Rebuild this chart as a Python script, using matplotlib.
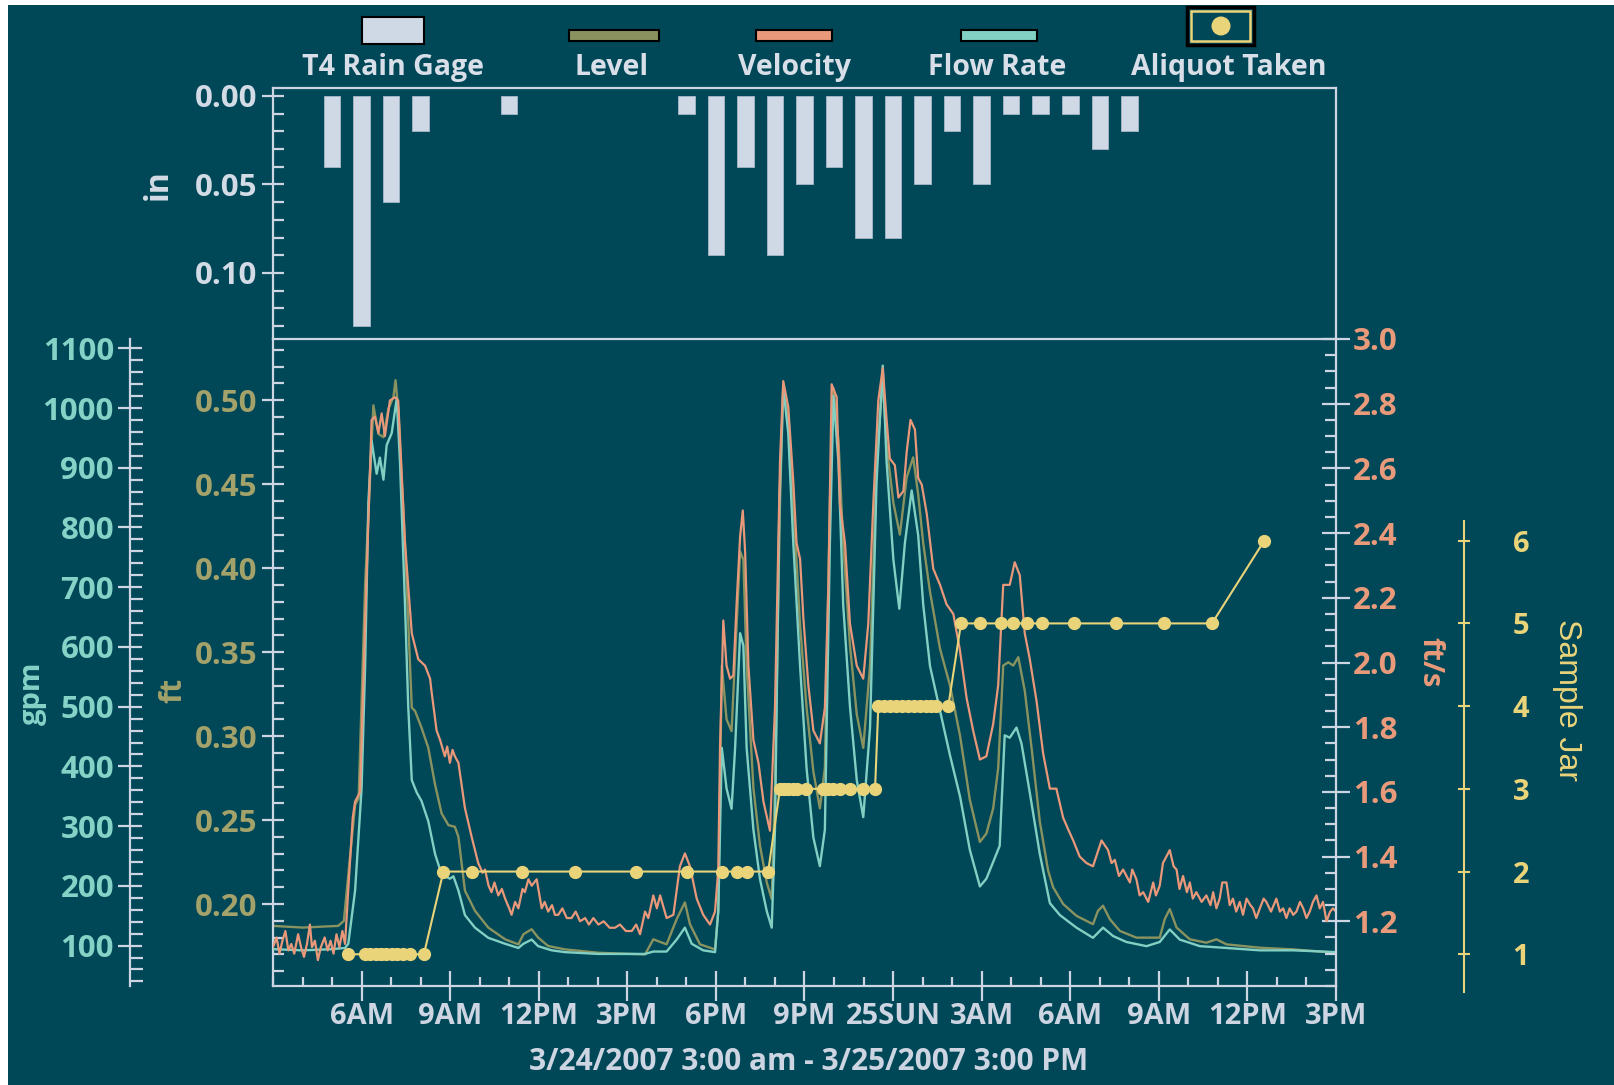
import matplotlib
matplotlib.use("Agg")
import matplotlib.pyplot as plt
import matplotlib.patches as mpatches
from matplotlib.ticker import MultipleLocator, FixedLocator, FormatStrFormatter

plt.rcParams["font.family"] = ["Open Sans", "DejaVu Sans"]
plt.rcParams["font.weight"] = "bold"

# ── data (hours after 3/24/2007 3:00 AM) ───────────────────────────────────
rain_hours = [2, 3, 4, 5, 8, 14, 15, 16, 17, 18, 19, 20, 21, 22, 23, 24, 25, 26, 27, 28, 29]
rain_in = [0.04, 0.13, 0.06, 0.02, 0.01, 0.01, 0.09, 0.04, 0.09, 0.05, 0.04,
           0.08, 0.08, 0.05, 0.02, 0.05, 0.01, 0.01, 0.01, 0.03, 0.02]

level_hours = [
    0.00, 1.00, 2.21, 2.40, 2.78, 2.90, 3.12, 3.40, 3.57, 3.74,
    3.91, 4.08, 4.15, 4.24, 4.47, 4.70, 4.81, 5.03, 5.26, 5.49,
    5.71, 5.94, 6.16, 6.28, 6.50, 6.84, 7.29, 7.86, 8.31, 8.48,
    8.76, 8.98, 9.32, 9.89, 11.02, 12.60, 12.88, 13.33, 13.67, 13.95,
    14.12, 14.46, 14.97, 15.08, 15.20, 15.36, 15.53, 15.70, 15.82, 15.93,
    16.04, 16.27, 16.49, 16.72, 16.89, 17.00, 17.17, 17.28, 17.45, 17.62,
    17.85, 18.07, 18.30, 18.52, 18.69, 18.86, 18.98, 19.15, 19.31, 19.54,
    19.77, 19.99, 20.22, 20.44, 20.65, 20.78, 21.01, 21.23, 21.46, 21.68,
    21.85, 22.02, 22.25, 22.59, 22.93, 23.27, 23.60, 23.94, 24.16, 24.39,
    24.56, 24.73, 24.90, 25.07, 25.24, 25.46, 25.69, 25.97, 26.25, 26.42,
    26.76, 27.21, 27.77, 27.94, 28.11, 28.34, 28.68, 29.24, 30.03, 30.20,
    30.37, 30.60, 31.05, 31.61, 31.95, 32.29, 33.42, 34.55, 36.00]
level_ft = [
    0.187, 0.186, 0.187, 0.190, 0.259, 0.263, 0.390, 0.497, 0.480, 0.478,
    0.495, 0.502, 0.512, 0.495, 0.415, 0.317, 0.315, 0.305, 0.293, 0.271,
    0.254, 0.247, 0.246, 0.240, 0.208, 0.196, 0.186, 0.179, 0.176, 0.182,
    0.185, 0.180, 0.175, 0.173, 0.171, 0.170, 0.179, 0.176, 0.191, 0.201,
    0.188, 0.176, 0.173, 0.196, 0.342, 0.310, 0.303, 0.366, 0.410, 0.405,
    0.342, 0.269, 0.235, 0.213, 0.203, 0.269, 0.439, 0.507, 0.488, 0.439,
    0.366, 0.317, 0.279, 0.257, 0.281, 0.439, 0.507, 0.476, 0.415, 0.354,
    0.313, 0.293, 0.342, 0.463, 0.512, 0.473, 0.439, 0.420, 0.454, 0.466,
    0.444, 0.415, 0.386, 0.352, 0.330, 0.300, 0.262, 0.237, 0.242, 0.257,
    0.281, 0.342, 0.344, 0.342, 0.347, 0.327, 0.293, 0.249, 0.220, 0.210,
    0.200, 0.193, 0.188, 0.196, 0.199, 0.191, 0.184, 0.180, 0.180, 0.191,
    0.197, 0.186, 0.179, 0.177, 0.179, 0.176, 0.174, 0.173, 0.171]

flow_hours = [
    0.00, 1.00, 2.00, 2.44, 2.55, 2.78, 3.00, 3.12, 3.23, 3.34,
    3.51, 3.62, 3.74, 3.85, 4.02, 4.19, 4.30, 4.47, 4.58, 4.70,
    4.87, 5.03, 5.26, 5.49, 5.71, 5.99, 6.11, 6.28, 6.50, 6.84,
    7.29, 7.86, 8.31, 8.48, 8.76, 8.98, 9.44, 9.89, 11.02, 12.60,
    12.88, 13.33, 13.67, 13.95, 14.18, 14.57, 14.97, 15.08, 15.20, 15.36,
    15.53, 15.65, 15.82, 15.93, 16.04, 16.27, 16.49, 16.72, 16.89, 17.00,
    17.15, 17.28, 17.45, 17.62, 17.85, 18.07, 18.30, 18.52, 18.69, 18.86,
    18.98, 19.15, 19.31, 19.54, 19.77, 19.99, 20.22, 20.44, 20.65, 20.78,
    21.01, 21.21, 21.40, 21.63, 21.85, 22.02, 22.25, 22.59, 22.93, 23.27,
    23.60, 23.94, 24.16, 24.39, 24.61, 24.78, 24.95, 25.18, 25.35, 25.63,
    25.97, 26.31, 26.65, 27.21, 27.77, 28.11, 28.45, 28.90, 29.58, 30.03,
    30.37, 30.71, 31.39, 32.29, 33.42, 34.55, 36.00]
flow_gpm = [
    94, 92, 94, 96, 103, 192, 363, 568, 842, 945,
    890, 917, 880, 938, 958, 1016, 910, 671, 500, 377,
    356, 342, 308, 253, 219, 212, 216, 192, 151, 130,
    113, 103, 96, 103, 110, 99, 92, 89, 86, 86,
    90, 90, 110, 130, 103, 92, 89, 158, 431, 363,
    329, 431, 623, 602, 431, 294, 212, 158, 130, 294,
    842, 1034, 958, 774, 568, 397, 281, 233, 294, 774,
    1020, 910, 671, 500, 377, 315, 465, 876, 1071, 910,
    746, 664, 774, 862, 787, 671, 568, 493, 418, 349,
    260, 199, 212, 240, 267, 452, 448, 465, 438, 356,
    253, 171, 151, 130, 113, 130, 116, 106, 99, 106,
    127, 110, 99, 96, 92, 92, 89]

vel_hours = [
    0.00, 0.12, 0.22, 0.32, 0.42, 0.52, 0.62, 0.72, 0.85, 0.95,
    1.05, 1.15, 1.25, 1.32, 1.42, 1.52, 1.62, 1.75, 1.85, 1.95,
    2.05, 2.15, 2.25, 2.35, 2.44, 2.55, 2.70, 2.78, 2.95, 3.12,
    3.34, 3.45, 3.57, 3.68, 3.79, 3.96, 4.13, 4.24, 4.47, 4.70,
    4.92, 5.15, 5.32, 5.37, 5.54, 5.66, 5.82, 5.90, 5.99, 6.08,
    6.16, 6.28, 6.50, 6.73, 6.95, 7.10, 7.18, 7.30, 7.40, 7.50,
    7.63, 7.75, 7.86, 8.00, 8.08, 8.20, 8.31, 8.45, 8.53, 8.65,
    8.76, 8.93, 9.10, 9.20, 9.32, 9.45, 9.55, 9.66, 9.80, 9.95,
    10.11, 10.25, 10.40, 10.57, 10.70, 10.85, 11.02, 11.20, 11.40, 11.58,
    11.75, 11.95, 12.15, 12.30, 12.43, 12.60, 12.71, 12.88, 13.00, 13.11,
    13.33, 13.56, 13.78, 13.95, 14.12, 14.35, 14.57, 14.80, 14.97, 15.08,
    15.14, 15.25, 15.36, 15.48, 15.59, 15.70, 15.82, 15.91, 15.99, 16.10,
    16.27, 16.44, 16.61, 16.83, 17.00, 17.17, 17.28, 17.45, 17.62, 17.73,
    17.85, 17.96, 18.13, 18.30, 18.52, 18.69, 18.81, 18.92, 19.09, 19.20,
    19.37, 19.54, 19.77, 19.99, 20.16, 20.33, 20.50, 20.65, 20.78, 20.89,
    21.06, 21.18, 21.35, 21.46, 21.59, 21.74, 21.85, 21.97, 22.14, 22.36,
    22.59, 22.81, 23.04, 23.26, 23.49, 23.71, 23.94, 24.16, 24.39, 24.56,
    24.73, 24.95, 25.12, 25.29, 25.46, 25.63, 25.86, 26.08, 26.31, 26.53,
    26.76, 26.95, 27.10, 27.32, 27.55, 27.77, 28.06, 28.28, 28.40, 28.51,
    28.65, 28.79, 29.02, 29.10, 29.24, 29.35, 29.47, 29.64, 29.81, 29.90,
    30.03, 30.14, 30.37, 30.50, 30.60, 30.70, 30.82, 30.95, 31.05, 31.15,
    31.27, 31.45, 31.61, 31.75, 31.84, 31.95, 32.06, 32.15, 32.29, 32.40,
    32.51, 32.62, 32.74, 32.85, 32.97, 33.10, 33.19, 33.30, 33.42, 33.55,
    33.64, 33.80, 33.98, 34.10, 34.21, 34.32, 34.43, 34.55, 34.66, 34.78,
    34.89, 35.00, 35.11, 35.22, 35.34, 35.45, 35.56, 35.68, 35.80, 35.90,
    36.00]
vel_fps = [
    1.12, 1.15, 1.10, 1.14, 1.17, 1.11, 1.13, 1.10, 1.16, 1.12,
    1.09, 1.13, 1.19, 1.12, 1.14, 1.08, 1.12, 1.15, 1.11, 1.14,
    1.10, 1.16, 1.12, 1.17, 1.13, 1.30, 1.52, 1.57, 1.60, 2.12,
    2.75, 2.76, 2.71, 2.77, 2.70, 2.81, 2.82, 2.81, 2.37, 2.09,
    2.01, 1.99, 1.95, 1.91, 1.79, 1.76, 1.71, 1.74, 1.69, 1.73,
    1.71, 1.69, 1.55, 1.46, 1.38, 1.35, 1.36, 1.31, 1.29, 1.32,
    1.28, 1.30, 1.27, 1.24, 1.22, 1.26, 1.24, 1.30, 1.29, 1.33,
    1.31, 1.33, 1.24, 1.26, 1.23, 1.25, 1.22, 1.22, 1.24, 1.21,
    1.21, 1.23, 1.20, 1.21, 1.19, 1.21, 1.19, 1.20, 1.18, 1.18,
    1.19, 1.17, 1.17, 1.19, 1.16, 1.23, 1.21, 1.28, 1.24, 1.28,
    1.21, 1.22, 1.37, 1.41, 1.37, 1.27, 1.22, 1.19, 1.23, 1.36,
    1.74, 2.13, 1.99, 1.95, 1.96, 2.18, 2.39, 2.47, 2.34, 1.99,
    1.76, 1.69, 1.57, 1.48, 1.86, 2.62, 2.87, 2.79, 2.56, 2.37,
    2.32, 2.14, 1.93, 1.79, 1.75, 1.86, 2.24, 2.86, 2.82, 2.49,
    2.37, 2.12, 1.99, 1.95, 2.12, 2.49, 2.81, 2.91, 2.75, 2.63,
    2.61, 2.51, 2.53, 2.65, 2.75, 2.72, 2.57, 2.55, 2.46, 2.29,
    2.24, 2.18, 2.15, 2.04, 1.89, 1.79, 1.70, 1.71, 1.81, 1.93,
    2.24, 2.24, 2.31, 2.27, 2.09, 2.01, 1.88, 1.72, 1.61, 1.61,
    1.52, 1.48, 1.45, 1.40, 1.38, 1.37, 1.45, 1.42, 1.38, 1.39,
    1.34, 1.36, 1.32, 1.36, 1.33, 1.28, 1.29, 1.26, 1.32, 1.28,
    1.31, 1.38, 1.42, 1.37, 1.36, 1.30, 1.34, 1.29, 1.32, 1.27,
    1.29, 1.26, 1.28, 1.25, 1.29, 1.24, 1.27, 1.32, 1.32, 1.25,
    1.27, 1.23, 1.26, 1.22, 1.27, 1.25, 1.24, 1.21, 1.24, 1.27,
    1.26, 1.23, 1.27, 1.23, 1.24, 1.21, 1.24, 1.22, 1.23, 1.26,
    1.24, 1.21, 1.23, 1.26, 1.28, 1.24, 1.26, 1.20, 1.23, 1.24,
    1.23]

aliquot_hours = [
    2.53, 3.12, 3.30, 3.48, 3.66, 3.84, 4.02, 4.20, 4.40, 4.64, 5.11,
    5.77, 6.73, 8.42, 10.23, 12.30, 14.01, 15.20, 15.70, 16.04, 16.77,
    17.17, 17.30, 17.45, 17.60, 17.73, 18.04, 18.64, 18.80, 18.98, 19.20, 19.54, 19.99, 20.39,
    20.50, 20.70, 20.90, 21.10, 21.30, 21.50, 21.70, 21.90, 22.10, 22.30, 22.47, 22.87,
    23.30, 23.96, 24.67, 25.07, 25.52, 26.03, 27.13, 28.56, 30.18, 31.80,
    33.57]
aliquot_jar = [
    1, 1, 1, 1, 1, 1, 1, 1, 1, 1, 1,
    2, 2, 2, 2, 2, 2, 2, 2, 2, 2,
    3, 3, 3, 3, 3, 3, 3, 3, 3, 3, 3, 3, 3,
    4, 4, 4, 4, 4, 4, 4, 4, 4, 4, 4, 4,
    5, 5, 5, 5, 5, 5, 5, 5, 5, 5,
    6]

x_tick_hours = [3, 6, 9, 12, 15, 18, 21, 24, 27, 30, 33, 36]
x_tick_labels = ["6AM", "9AM", "12PM", "3PM", "6PM", "9PM", "25SUN",
                 "3AM", "6AM", "9AM", "12PM", "3PM"]

# ── colours ────────────────────────────────────────────────────────────────
BG = "#004757"
AXC = "#cdd5e2"
BAR_C = "#cfd8e5"
LVL_C = "#8a935f"
VEL_C = "#ea987a"
FLOW_C = "#82d0c3"
ALQ_C = "#ead47a"
FT_TXT = "#a3a26b"
GPM_TXT = "#85d3c7"
VEL_TXT = "#e99a7a"

W, H = 1615, 1085
X0, X1 = 273, 1336          # plot frame in pixels
Y_TOP, Y_MID, Y_BOT = 88, 339, 986
TICK_FS = 22.5


def fx(px):
    return px / W


def fy(py):
    return 1 - py / H


fig = plt.figure(figsize=(W / 100, H / 100), dpi=100, facecolor=BG)

# ── rain panel ─────────────────────────────────────────────────────────────
ax_rain = fig.add_axes([fx(X0), fy(Y_MID), fx(X1) - fx(X0), fy(Y_TOP) - fy(Y_MID)])
ax_rain.set_facecolor("none")
ax_rain.bar(rain_hours, rain_in, width=0.56, color=BAR_C, edgecolor="#a9b8cb", linewidth=0.6)
ax_rain.set_xlim(0, 36)
ax_rain.set_ylim(0.1373, -0.0045)
ax_rain.set_xticks([])
ax_rain.yaxis.set_major_locator(MultipleLocator(0.05))
ax_rain.yaxis.set_minor_locator(MultipleLocator(0.01))
ax_rain.yaxis.set_major_formatter(FormatStrFormatter("%.2f"))
ax_rain.tick_params(axis="y", which="major", direction="inout", length=16.5, width=1.6,
                    color=AXC, labelcolor="#d3dbe6", labelsize=TICK_FS, pad=3)
ax_rain.tick_params(axis="y", which="minor", direction="in", length=8, width=1.6, color=AXC)
for sp in ax_rain.spines.values():
    sp.set_color(AXC)
    sp.set_linewidth(1.6)

# ── level (ft) – main lower axes ───────────────────────────────────────────
ax_lvl = fig.add_axes([fx(X0), fy(Y_BOT), fx(X1) - fx(X0), fy(Y_MID) - fy(Y_BOT)])
ax_lvl.set_facecolor("none")
ax_lvl.plot(level_hours, level_ft, color=LVL_C, lw=1.7)
ax_lvl.set_xlim(0, 36)
ax_lvl.set_ylim(0.1512, 0.5365)
ax_lvl.yaxis.set_major_locator(MultipleLocator(0.05))
ax_lvl.yaxis.set_minor_locator(MultipleLocator(0.01))
ax_lvl.yaxis.set_major_formatter(FormatStrFormatter("%.2f"))
ax_lvl.set_xticks(x_tick_hours, labels=x_tick_labels)
ax_lvl.xaxis.set_minor_locator(MultipleLocator(1))
ax_lvl.tick_params(axis="y", which="major", direction="inout", length=16.5, width=1.6,
                   color=AXC, labelcolor=FT_TXT, labelsize=TICK_FS, pad=3)
ax_lvl.tick_params(axis="y", which="minor", direction="in", length=8, width=1.6, color=AXC)
ax_lvl.tick_params(axis="x", which="major", direction="inout", length=21, width=1.6,
                   color=AXC, labelcolor=AXC, labelsize=21, pad=1)
ax_lvl.tick_params(axis="x", which="minor", direction="in", length=6.5, width=1.6, color=AXC)
for name, sp in ax_lvl.spines.items():
    if name in ("left", "bottom"):
        sp.set_color(AXC)
        sp.set_linewidth(1.6)
    else:
        sp.set_visible(False)

# ── flow rate (gpm) – offset left axis ─────────────────────────────────────
ax_flow = ax_lvl.twinx()
ax_flow.plot(flow_hours, flow_gpm, color=FLOW_C, lw=1.7)
ax_flow.set_ylim(32.3, 1115.6)
ax_flow.yaxis.tick_left()
ax_flow.yaxis.set_major_locator(MultipleLocator(100))
ax_flow.yaxis.set_minor_locator(MultipleLocator(20))
ax_flow.tick_params(axis="y", which="major", direction="inout", length=17, width=1.6,
                    color=AXC, labelcolor=GPM_TXT, labelsize=TICK_FS, pad=3)
ax_flow.tick_params(axis="y", which="minor", direction="in", length=9, width=1.6, color=AXC)
for name, sp in ax_flow.spines.items():
    sp.set_visible(name == "left")
ax_flow.spines["left"].set_position(("axes", (130 - X0) / (X1 - X0)))
ax_flow.spines["left"].set_color(AXC)
ax_flow.spines["left"].set_linewidth(1.6)

# ── velocity (ft/s) – right axis ───────────────────────────────────────────
ax_vel = ax_lvl.twinx()
ax_vel.plot(vel_hours, vel_fps, color=VEL_C, lw=1.6)
ax_vel.set_ylim(1.0, 3.0)
ax_vel.yaxis.set_major_locator(FixedLocator([1.2, 1.4, 1.6, 1.8, 2.0, 2.2, 2.4, 2.6, 2.8, 3.0]))
ax_vel.yaxis.set_minor_locator(MultipleLocator(0.05))
ax_vel.yaxis.set_major_formatter(FormatStrFormatter("%.1f"))
ax_vel.tick_params(axis="y", which="major", direction="inout", length=20, width=1.6,
                   color=AXC, labelcolor=VEL_TXT, labelsize=TICK_FS, pad=2)
ax_vel.tick_params(axis="y", which="minor", direction="in", length=8, width=1.6, color=AXC)
for name, sp in ax_vel.spines.items():
    sp.set_visible(name == "right")
ax_vel.spines["right"].set_color(AXC)
ax_vel.spines["right"].set_linewidth(1.6)

# ── sample jar axis + aliquots ─────────────────────────────────────────────
J_TOP, J_BOT = 521, 992
ax_jar = fig.add_axes([fx(X0), fy(J_BOT), fx(X1) - fx(X0), fy(J_TOP) - fy(J_BOT)])
ax_jar.patch.set_visible(False)
ax_jar.set_xlim(0, 36)
ax_jar.set_ylim(0.544, 6.238)
ax_jar.xaxis.set_visible(False)
ax_jar.plot(aliquot_hours, aliquot_jar, color=ALQ_C, lw=1.5, marker="o", ms=8.5,
            mec=ALQ_C, mfc=ALQ_C, clip_on=False)
ax_jar.yaxis.tick_right()
ax_jar.set_yticks([1, 2, 3, 4, 5, 6], labels=["1", "2", "3", "4", "5", "6"],
                  fontfamily="Liberation Sans", fontweight="normal")
ax_jar.tick_params(axis="y", direction="inout", length=8, width=1.5, color=ALQ_C,
                   labelcolor=ALQ_C, labelsize=21, pad=31)
for name, sp in ax_jar.spines.items():
    sp.set_visible(name == "right")
ax_jar.spines["right"].set_position(("axes", (1464 - X0) / (X1 - X0)))
ax_jar.spines["right"].set_color(ALQ_C)
ax_jar.spines["right"].set_linewidth(1.5)

# ── overlay in pixel coords: labels, legend, border strips ────────────────
lax = fig.add_axes([0, 0, 1, 1])
lax.set_xlim(0, W)
lax.set_ylim(H, 0)
lax.axis("off")
lax.patch.set_visible(False)

lax.add_patch(mpatches.Rectangle((0, 0), 8, H, facecolor="white", edgecolor="none"))
lax.add_patch(mpatches.Rectangle((0, 0), W, 5, facecolor="white", edgecolor="none"))

lax.text(158, 185, "in", rotation=90, ha="center", va="center", fontsize=23, color="#d3dbe6")
lax.text(32, 693, "gpm", rotation=90, ha="center", va="center", fontsize=21, color=GPM_TXT)
lax.text(173, 690, "ft", rotation=90, ha="center", va="center", fontsize=22, color=FT_TXT)
lax.text(1430, 662, "ft/s", rotation=270, ha="center", va="center", fontsize=21, color=VEL_TXT)
lax.text(1567, 700, "Sample Jar", rotation=270, ha="center", va="center", fontsize=23,
         color=ALQ_C, fontfamily="Liberation Sans", fontweight="normal")
lax.text((X0 + X1) / 2 + 4, 1062, "3/24/2007 3:00 am - 3/25/2007 3:00 PM",
         ha="center", va="center", fontsize=21.5, color=AXC)

# legend
LEG_TXT = "#d8dfe8"
lax.add_patch(mpatches.Rectangle((362, 17), 62, 27, facecolor=BAR_C, edgecolor="black", lw=1.5))
lax.add_patch(mpatches.Rectangle((569, 30), 90, 11, facecolor=LVL_C, edgecolor="black", lw=1.5))
lax.add_patch(mpatches.Rectangle((756, 30), 76, 11, facecolor=VEL_C, edgecolor="black", lw=1.5))
lax.add_patch(mpatches.Rectangle((961, 30), 76, 11, facecolor=FLOW_C, edgecolor="black", lw=1.5))
lax.add_patch(mpatches.Rectangle((1187, 7), 67, 38, facecolor=BG, edgecolor="black", lw=2.5))
lax.add_patch(mpatches.Rectangle((1191, 11), 59, 30, facecolor="none", edgecolor=ALQ_C, lw=1.8))
lax.add_patch(mpatches.Circle((1221, 26), 9.5, facecolor=ALQ_C, edgecolor="none"))

for cx, label in [(393, "T4 Rain Gage"), (612, "Level"), (795, "Velocity"),
                  (997, "Flow Rate"), (1229, "Aliquot Taken")]:
    lax.text(cx, 75, label, ha="center", va="baseline", fontsize=20.5, color=LEG_TXT)

fig.savefig("out.png", dpi=100, facecolor=BG)
